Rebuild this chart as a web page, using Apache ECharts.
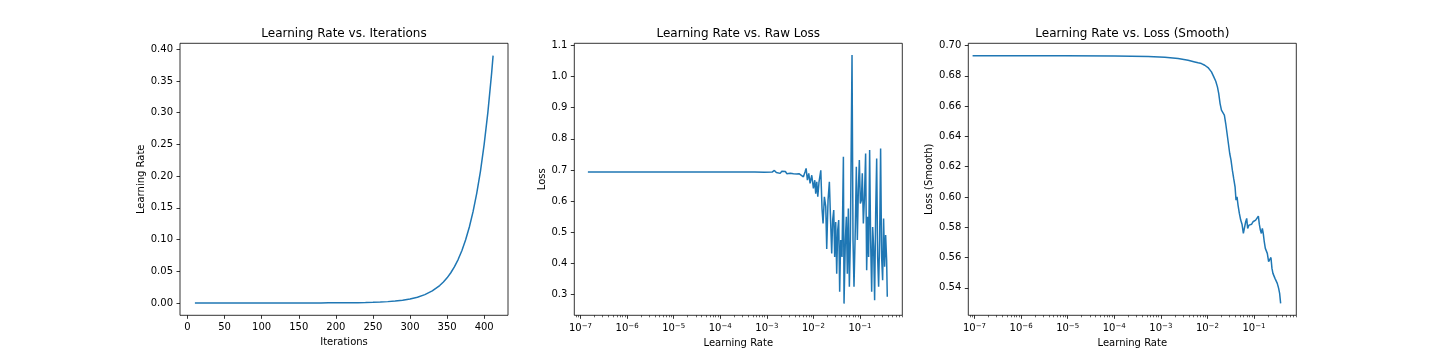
<!DOCTYPE html>
<html><head><meta charset="utf-8">
<script src="https://cdn.jsdelivr.net/npm/echarts@6/dist/echarts.min.js"></script>
<style>html,body{margin:0;padding:0;background:#fff}#c{width:1440px;height:360px}</style>
</head><body><div id="c"></div>
<script>
// ---------- data ----------
const iterations = [10,20,30,40,50,60,70,80,90,100,110,120,130,140,150,160,170,180,190,200,210,220,230,240,250,260,270,280,290,300,310,320,330,340,345,350,355,360,365,370,375,380,385,390,395,400,405,410,412];
const learningRates = [1.42e-7,2.05e-7,2.96e-7,4.3e-7,6.2e-7,8.9e-7,1.29e-6,1.86e-6,2.7e-6,3.9e-6,5.64e-6,8.15e-6,1.18e-5,1.71e-5,2.47e-5,3.57e-5,5.16e-5,7.46e-5,1.08e-4,1.56e-4,2.26e-4,3.27e-4,4.72e-4,6.83e-4,9.88e-4,1.43e-3,2.07e-3,2.99e-3,4.32e-3,6.25e-3,9.05e-3,1.308e-2,1.892e-2,2.74e-2,3.30e-2,3.96e-2,4.76e-2,5.72e-2,6.88e-2,8.28e-2,9.96e-2,0.1197,0.144,0.1732,0.208,0.2505,0.301,0.362,0.39];

const rawLossLR = [1.44e-7,2.2e-7,3.5e-7,6e-7,1.0e-6,1.8e-6,3.0e-6,5.0e-6,8.4e-6,1.5e-5,3.2e-5,5.5e-5,8.6e-5,1.4e-4,2.0e-4,2.15e-4,2.3e-4,3.0e-4,3.84e-4,5.5e-4,8.8e-4,1.3e-3,1.45e-3,1.6e-3,1.75e-3,1.93e-3,2.1e-3,2.3e-3,2.5e-3,2.68e-3,2.9e-3,3.2e-3,3.5e-3,3.73e-3,4.1e-3,4.4e-3,4.9e-3,
  5.35e-3,6.10e-3,6.63e-3,6.97e-3,7.43e-3,7.94e-3,8.48e-3,9.21e-3,1.00e-2,1.07e-2,1.12e-2,1.18e-2,1.24e-2,1.32e-2,1.44e-2,1.53e-2,1.61e-2,1.72e-2,1.84e-2,1.93e-2,2.06e-2,2.20e-2,2.31e-2,2.47e-2,2.59e-2,2.73e-2,2.86e-2,3.01e-2,3.16e-2,3.32e-2,3.49e-2,3.66e-2,3.85e-2,4.11e-2,4.40e-2,4.54e-2,4.85e-2,5.09e-2,5.35e-2,5.62e-2,5.91e-2,6.21e-2,6.74e-2,7.08e-2,7.43e-2,7.94e-2,8.34e-2,8.77e-2,9.21e-2,9.68e-2,0.1017,0.107,0.112,0.118,0.124,0.132,0.139,0.146,0.153,0.161,0.169,0.178,0.187,0.196,0.206,0.217,0.228,0.239,0.251,0.264,0.277,0.291,0.306,0.321,0.338,0.355,0.373,0.385];
const rawLoss = [0.6935,0.6932,0.6936,0.6931,0.6935,0.6933,0.6936,0.6932,0.6935,0.6931,0.6936,0.6932,0.6934,0.6930,0.6934,0.6975,0.6932,0.6935,0.6930,0.6933,0.6925,0.6930,0.6985,0.6915,0.6940,0.6890,0.6960,0.6900,0.6950,0.6880,0.6935,0.6895,0.6925,0.6880,0.6915,0.6870,0.6880,
  0.683,0.678,0.694,0.705,0.667,0.689,0.657,0.683,0.641,0.667,0.624,0.662,0.614,0.662,0.699,0.576,0.528,0.614,0.582,0.446,0.603,0.662,0.560,0.432,0.539,0.571,0.421,0.533,0.367,0.507,0.539,0.309,0.475,0.421,0.742,0.271,0.475,0.550,0.367,0.576,0.325,0.475,1.069,0.475,0.325,0.517,0.710,0.475,0.635,0.732,0.592,0.603,0.689,0.528,0.603,0.753,0.378,0.550,0.421,0.764,0.475,0.309,0.517,0.453,0.282,0.560,0.737,0.421,0.325,0.475,0.769,0.421,0.346,0.544,0.389,0.491,0.410,0.293];

const smoothLossLR = [9.1e-8,7.44e-7,8.77e-6,1.03e-4,5.35e-4,1.22e-3,2.35e-3,3.85e-3,5.35e-3,6.31e-3,7.43e-3,8.77e-3,1.03e-2,1.22e-2,1.37e-2,1.51e-2,1.64e-2,1.75e-2,1.87e-2,2.00e-2,2.17e-2,2.31e-2,2.47e-2,2.64e-2,2.82e-2,3.01e-2,3.21e-2,3.43e-2,3.66e-2,3.92e-2,4.11e-2,4.32e-2,4.54e-2,4.85e-2,5.18e-2,5.53e-2,5.91e-2,6.31e-2,6.63e-2,6.97e-2,7.31e-2,7.82e-2,8.34e-2,8.91e-2,9.52e-2,0.1017,0.1086,0.116,0.124,0.130,0.137,0.144,0.151,0.158,0.166,0.175,0.184,0.193,0.206,0.220,0.231,0.243,0.255,0.268,0.282,0.296,0.316,0.338,0.355,0.373];
const smoothLoss = [0.6932,0.6932,0.6932,0.6931,0.6927,0.6923,0.6914,0.6903,0.6892,0.6886,0.6881,0.6870,0.6855,0.6826,0.6793,0.6764,0.6727,0.6683,0.6617,0.6573,0.6569,0.6540,0.6485,0.6419,0.6353,0.6287,0.6243,0.6177,0.6122,0.6067,0.5979,0.6001,0.5946,0.5891,0.5847,0.5820,0.5759,0.5748,0.5836,0.5858,0.5792,0.5814,0.5803,0.5820,0.5836,0.5829,0.5847,0.5836,0.5873,0.5820,0.5781,0.5759,0.5792,0.5759,0.5704,0.5660,0.5660,0.5627,0.5572,0.5561,0.5600,0.5528,0.5495,0.5506,0.5462,0.5451,0.5429,0.5396,0.5363,0.5297];

const titles = ['Learning Rate vs. Iterations','Learning Rate vs. Raw Loss','Learning Rate vs. Loss (Smooth)'];
const xNames = ['Iterations','Learning Rate','Learning Rate'];
const yNames = ['Learning Rate','Loss','Loss (Smooth)'];
const iterTicks = [0,50,100,150,200,250,300,350,400];
const lrYTicks = [0,0.05,0.10,0.15,0.20,0.25,0.30,0.35,0.40];
const lrLogTicks = [1e-7,1e-6,1e-5,1e-4,1e-3,1e-2,1e-1];
const rawLossTicks = [0.3,0.4,0.5,0.6,0.7,0.8,0.9,1.0,1.1];
const smoothLossTicks = [0.54,0.56,0.58,0.60,0.62,0.64,0.66,0.68,0.70];

// ---------- layout ----------
const FONT = 'DejaVu Sans';
const gridLefts = [180, 574.3, 968.3];
const GW = 328, GT = 43.3, GH = 272;
const LOGMIN = 7.36e-8, LOGMAX = 0.809;

const minorLog = [];
for (let e = -8; e <= -1; e++) for (let m = 2; m <= 9; m++) {
  const v = m * Math.pow(10, e);
  if (v > LOGMIN && v < LOGMAX) minorLog.push(v);
}

const tickStyle = (len, w) => ({show:true, inside:false, length:len, lineStyle:{color:'#000', width:w}});
const labelBase = {color:'#000', fontSize:10, fontFamily:FONT, margin:7};
const nameStyle = {color:'#000', fontSize:10, fontFamily:FONT};
const noLine = {show:false, onZero:false};
const supFmt = v => { const e = Math.round(Math.log10(v)); return '10{e|' + (e < 0 ? '\u2212' : '') + Math.abs(e) + '}'; };

const grids = gridLefts.map(l => ({left:l, top:GT, width:GW, height:GH, show:true, borderColor:'#000', borderWidth:0.8, backgroundColor:'#fff'}));

const xAxis = [
  {type:'value', gridIndex:0, position:'bottom', min:-10.1, max:432.1, axisLine:noLine, splitLine:{show:false},
   axisTick:Object.assign(tickStyle(3.5,0.8), {customValues:iterTicks}),
   axisLabel:Object.assign({}, labelBase, {customValues:iterTicks, formatter:v => String(v)}),
   name:xNames[0], nameLocation:'middle', nameGap:19, nameTextStyle:nameStyle},
  ...[1,2].map(g => ({type:'log', logBase:10, gridIndex:g, position:'bottom', min:LOGMIN, max:LOGMAX, axisLine:noLine, splitLine:{show:false},
   axisTick:Object.assign(tickStyle(3.5,0.8), {customValues:lrLogTicks}),
   axisLabel:Object.assign({}, labelBase, {customValues:lrLogTicks, formatter:supFmt,
     rich:{e:{fontSize:7, fontFamily:FONT, color:'#000', padding:[0,0,6,0]}}}),
   name:xNames[g], nameLocation:'middle', nameGap:22, nameTextStyle:nameStyle})),
  ...[1,2].map(g => ({type:'log', logBase:10, gridIndex:g, position:'bottom', min:LOGMIN, max:LOGMAX, axisLine:noLine, splitLine:{show:false},
   axisTick:Object.assign(tickStyle(2,0.6), {customValues:minorLog}),
   axisLabel:{show:false}}))
];

const yAxis = [
  {gridIndex:0, min:-0.0195, max:0.4095, ticks:lrYTicks, fmt:2, name:yNames[0], gap:33},
  {gridIndex:1, min:0.2335, max:1.1064, ticks:rawLossTicks, fmt:1, name:yNames[1], gap:27},
  {gridIndex:2, min:0.5218, max:0.7015, ticks:smoothLossTicks, fmt:2, name:yNames[2], gap:34}
].map(a => ({type:'value', gridIndex:a.gridIndex, position:'left', min:a.min, max:a.max, axisLine:noLine, splitLine:{show:false},
  axisTick:Object.assign(tickStyle(3.5,0.8), {customValues:a.ticks}),
  axisLabel:Object.assign({}, labelBase, {customValues:a.ticks, formatter:v => v.toFixed(a.fmt)}),
  name:a.name, nameLocation:'middle', nameGap:a.gap, nameTextStyle:nameStyle}));

const lineSeries = (xi, yi, xs, ys) => ({type:'line', xAxisIndex:xi, yAxisIndex:yi, showSymbol:false, symbol:'none',
  lineStyle:{color:'#1f77b4', width:1.5}, itemStyle:{color:'#1f77b4'}, animation:false,
  data: xs.map((x, i) => [x, ys[i]])});

const option = {
  backgroundColor:'#fff',
  animation:false,
  title: titles.map((t, i) => ({text:t, left:gridLefts[i] + GW/2, top:27.5, textAlign:'center', padding:0,
    textStyle:{fontSize:12, fontWeight:'normal', color:'#000', fontFamily:FONT}})),
  grid: grids,
  xAxis: xAxis,
  yAxis: yAxis,
  series: [
    lineSeries(0, 0, iterations, learningRates),
    lineSeries(1, 1, rawLossLR, rawLoss),
    lineSeries(2, 2, smoothLossLR, smoothLoss)
  ]
};

const chart = echarts.init(document.getElementById('c'), null, {renderer:'canvas'});
chart.setOption(option);
</script>
</body></html>
